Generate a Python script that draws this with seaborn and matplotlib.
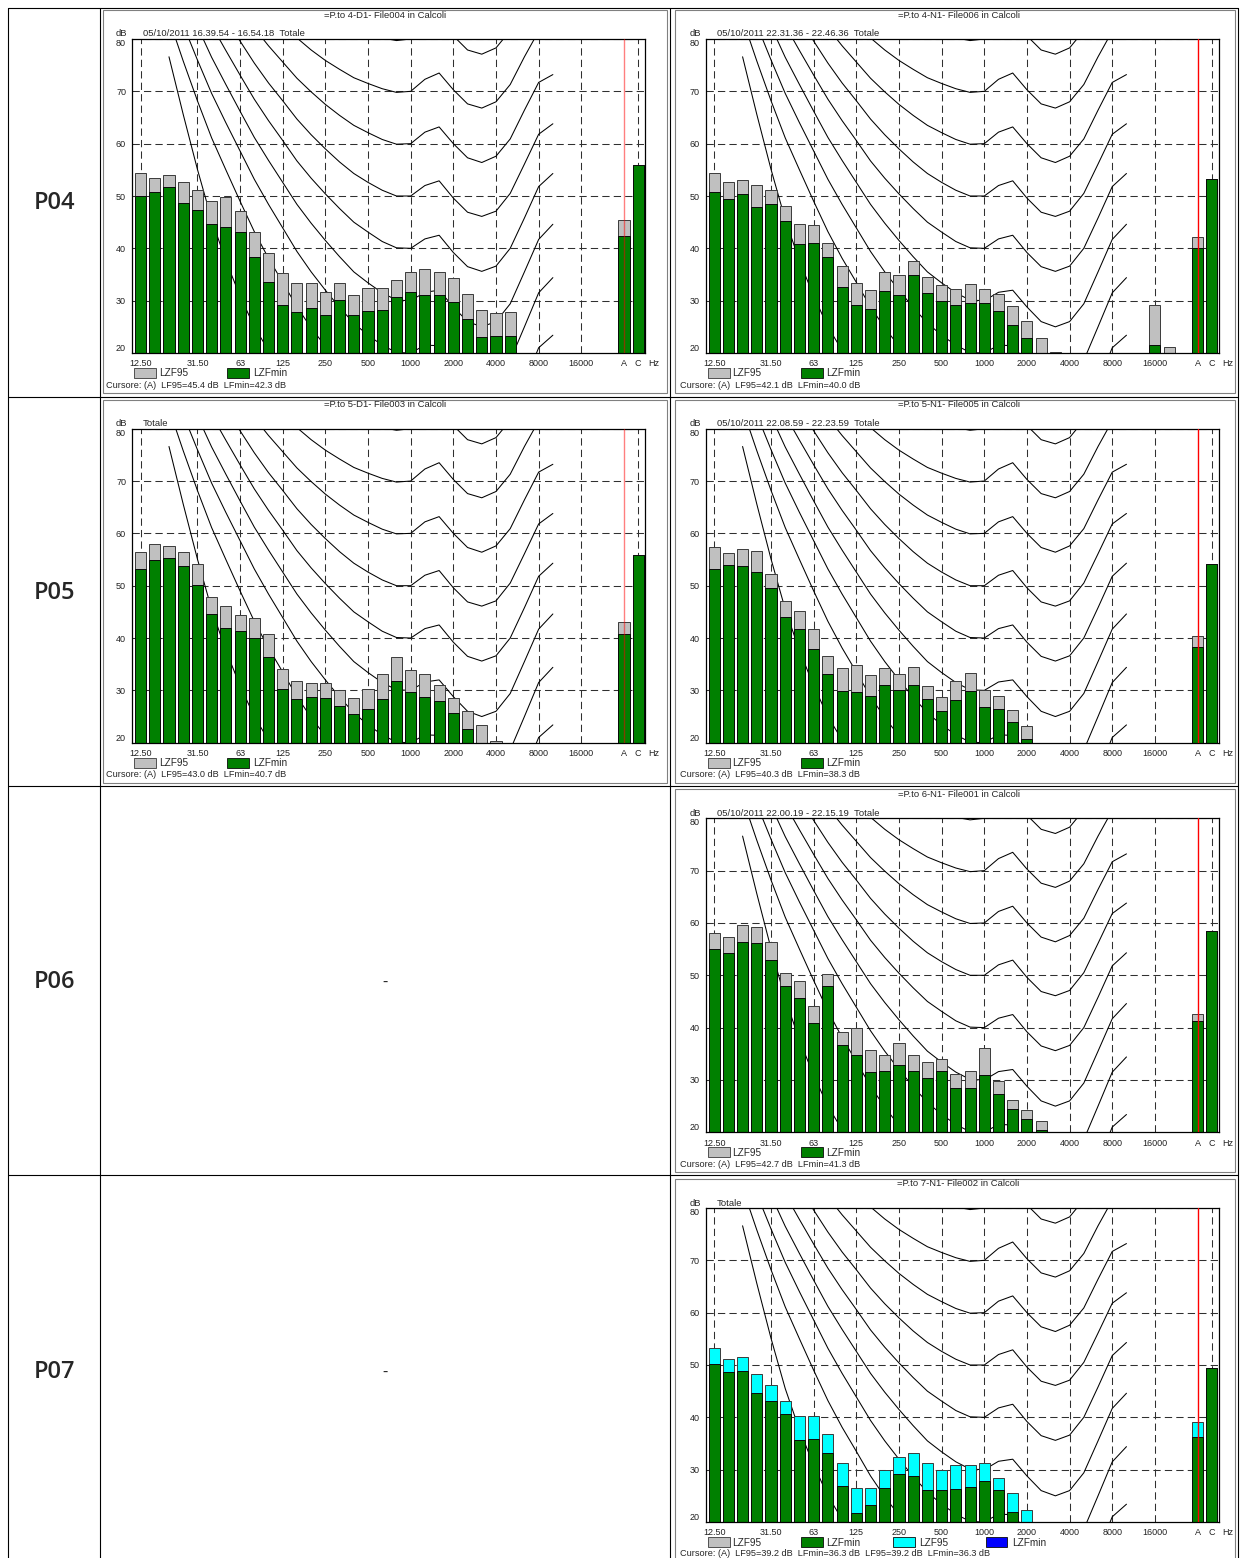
import numpy as np
import pandas as pd
import matplotlib
matplotlib.use("Agg")
import matplotlib.pyplot as plt
import seaborn as sns
from matplotlib.lines import Line2D
from matplotlib.patches import Rectangle

sns.set_style("white")
plt.rcParams['font.family'] = ['Liberation Sans', 'DejaVu Sans']

W, H = 1241, 1558
BANDS = ["12.5", "16", "20", "25", "31.5", "40", "50", "63", "80", "100", "125", "160", "200",
         "250", "315", "400", "500", "630", "800", "1000", "1250", "1600", "2000", "2500",
         "3150", "4000", "5000", "6300", "8000", "10000", "12500", "16000", "20000"]
CATS = BANDS + ["gap", "A", "C"]
TICK_POS = [0, 4, 7, 10, 13, 16, 19, 22, 25, 28, 31, 34, 35]
TICK_LAB = ["12.50", "31.50", "63", "125", "250", "500", "1000", "2000", "4000", "8000", "16000", "A", "C"]
GRID_X = [0, 4, 7, 10, 13, 16, 19, 22, 25, 28, 31, 35]

# equal-loudness contours, 20 Hz ... 10000 Hz
PHON_0 = [76.6, 65.6, 55.1, 45.5, 37.6, 30.9, 25.0, 20.5, 16.6, 13.1, 10.1, 7.5, 5.1, 3.1, 1.5, 0.3, -0.3, -0.0,
          1.0, -1.2, -4.1, -7.0, -9.0, -8.5, -4.5, 3.3, 9.8, 10.5]
PHON_10 = [83.8, 75.8, 68.2, 61.1, 55.0, 49.0, 43.2, 38.1, 33.5, 28.8, 24.8, 21.3, 18.1, 15.1, 13.0, 11.2, 10.0,
           10.0, 11.3, 10.4, 7.3, 4.5, 3.0, 3.8, 7.5, 14.3, 21.0, 23.4]
PHON_20 = [89.6, 82.7, 76.0, 69.6, 64.0, 58.6, 53.2, 48.4, 43.9, 39.4, 35.5, 32.0, 28.7, 25.7, 23.4, 21.5, 20.1,
           20.0, 21.5, 21.4, 18.2, 15.4, 14.3, 15.1, 18.6, 25.0, 31.5, 34.4]
PHON_30 = [94.8, 88.5, 82.4, 76.5, 71.3, 66.2, 61.2, 56.8, 52.6, 48.4, 44.8, 41.5, 38.4, 35.5, 33.4, 31.5, 30.1,
           30.0, 31.6, 32.0, 28.8, 26.0, 25.0, 26.0, 29.4, 35.5, 41.7, 44.6]
PHON_40 = [99.9, 93.9, 88.2, 82.6, 77.8, 73.1, 68.5, 64.4, 60.6, 56.7, 53.4, 50.4, 47.6, 45.0, 43.1, 41.3, 40.1,
           40.0, 41.8, 42.5, 39.2, 36.5, 35.6, 36.6, 40.0, 45.8, 51.8, 54.3]
PHON_50 = [104.7, 99.1, 93.7, 88.5, 84.0, 79.6, 75.4, 71.6, 68.2, 64.7, 61.7, 59.0, 56.5, 54.3, 52.6, 51.1, 50.0,
           50.0, 52.0, 52.9, 49.6, 46.9, 46.1, 47.1, 50.5, 56.1, 61.8, 63.8]
PHON_60 = [109.5, 104.2, 99.1, 94.2, 90.0, 85.9, 82.1, 78.7, 75.6, 72.5, 69.9, 67.5, 65.4, 63.5, 62.1, 60.8, 59.9,
           60.0, 62.2, 63.2, 60.0, 57.3, 56.4, 57.6, 60.9, 66.4, 71.7, 73.2]
PHON_70 = [114.3, 109.2, 104.4, 99.8, 95.9, 92.2, 88.6, 85.6, 82.9, 80.2, 77.9, 75.9, 74.2, 72.6, 71.5, 70.5, 69.8,
           70.0, 72.3, 73.5, 70.3, 67.6, 66.8, 68.0, 71.3, 76.6, 81.5, 82.5]
PHON_80 = [119.0, 114.2, 109.6, 105.3, 101.7, 98.4, 95.2, 92.5, 90.1, 87.8, 85.9, 84.3, 82.9, 81.7, 80.9, 80.2,
           79.7, 80.0, 82.5, 83.7, 80.6, 77.9, 77.1, 78.3, 81.6, 86.8, 91.4, 91.7]

CURVES = {0: PHON_0, 10: PHON_10, 20: PHON_20, 30: PHON_30, 40: PHON_40, 50: PHON_50, 60: PHON_60,
          70: PHON_70, 80: PHON_80}
CURVE_POS = list(range(2, 30))

nan = np.nan
P04L_95 = [54.3, 53.4, 54.1, 52.7, 51.1, 49.0, 49.9, 47.1, 43.1, 39.2, 35.3, 33.4, 33.4, 31.6, 33.4, 31.1, 32.4,
           32.5, 34.0, 35.4, 36.1, 35.5, 34.3, 31.2, 28.3, 27.6, 27.9] + [nan] * 6
P04L_MIN = [50.0, 50.8, 51.7, 48.7, 47.3, 44.6, 44.1, 43.1, 38.3, 33.6, 29.2, 27.8, 28.6, 27.3, 30.1, 27.3, 28.0,
            28.3, 30.7, 31.7, 31.1, 31.1, 29.7, 26.5, 23.0, 23.2, 23.2] + [nan] * 6
P04L_AC = ([45.4, 56.0], [42.3, 56.0])

P04R_95 = [54.3, 52.7, 53.1, 52.1, 51.1, 48.0, 44.7, 44.5, 41.1, 36.7, 33.3, 32.1, 35.4, 35.0, 37.5, 34.5, 32.9,
           32.3, 33.2, 32.3, 31.2, 28.9, 26.1, 22.8, 20.1, nan, nan, nan, nan, nan, nan, 29.1, 21.1]
P04R_MIN = [50.8, 49.5, 50.4, 47.9, 48.5, 45.2, 40.8, 41.0, 38.3, 32.6, 29.2, 28.4, 31.8, 31.1, 34.9, 31.5, 29.9,
            29.2, 29.6, 29.6, 28.0, 25.4, 22.9, nan, nan, nan, nan, nan, nan, nan, nan, 21.6, nan]
P04R_AC = ([42.1, 53.2], [40.0, 53.2])

P05L_95 = [56.4, 57.9, 57.6, 56.5, 54.1, 47.9, 46.2, 44.4, 43.8, 40.8, 34.1, 31.8, 31.5, 31.4, 30.1, 28.5, 30.3,
           33.1, 36.3, 33.8, 33.2, 31.0, 28.6, 26.0, 23.3, 20.3] + [nan] * 7
P05L_MIN = [53.2, 55.0, 55.2, 53.8, 50.1, 44.6, 42.0, 41.4, 40.1, 36.4, 30.3, 28.4, 28.8, 28.6, 27.1, 25.4, 26.5,
            28.3, 31.8, 29.7, 28.8, 28.0, 25.7, 22.7] + [nan] * 9
P05L_AC = ([43.0, 55.9], [40.7, 55.9])

P05R_95 = [57.3, 56.2, 57.1, 56.6, 52.2, 47.1, 45.2, 41.7, 36.6, 34.2, 34.8, 32.9, 34.3, 33.1, 34.5, 30.8, 28.7,
           31.7, 33.4, 30.1, 28.9, 26.2, 23.2] + [nan] * 10
P05R_MIN = [53.1, 54.0, 53.8, 52.7, 49.6, 44.1, 41.8, 37.9, 33.2, 29.9, 29.7, 29.0, 31.1, 30.1, 31.1, 28.4, 26.1,
            28.2, 29.9, 26.9, 26.5, 24.0, 20.8] + [nan] * 10
P05R_AC = ([40.3, 54.1], [38.3, 54.1])

P06R_95 = [58.1, 57.3, 59.7, 59.3, 56.3, 50.5, 49.0, 44.1, 50.2, 39.2, 39.9, 35.8, 34.7, 37.1, 34.7, 33.5, 34.0,
           31.1, 31.8, 36.1, 29.8, 26.1, 24.2, 22.1] + [nan] * 9
P06R_MIN = [55.0, 54.3, 56.3, 56.1, 52.9, 48.0, 45.7, 40.9, 48.0, 36.7, 34.8, 31.6, 31.8, 32.9, 31.8, 30.4, 31.8,
            28.5, 28.5, 31.0, 27.3, 24.4, 22.5, 20.4] + [nan] * 9
P06R_AC = ([42.7, 58.4], [41.3, 58.4])

P07R_95 = [53.2, 51.2, 51.5, 48.2, 46.2, 43.1, 40.2, 40.2, 36.9, 31.2, 26.5, 26.5, 29.9, 32.5, 33.1, 31.3, 30.0,
           30.8, 30.8, 31.3, 28.5, 25.5, 22.2] + [nan] * 10
P07R_MIN = [50.1, 48.6, 48.8, 44.6, 43.1, 40.6, 35.6, 35.8, 33.2, 26.9, 21.7, 23.2, 26.5, 29.1, 28.7, 26.2, 26.2,
            26.4, 26.6, 27.8, 26.1, 22.0] + [nan] * 11
P07R_AC = ([39.2, 49.4], [36.3, 49.4])

ROW_LABELS = ["P04", "P05", "P06", "P07"]

PANELS = [
    dict(r=0, c=0, title="=P.to 4-D1- File004 in Calcoli", head="05/10/2011 16.39.54 - 16.54.18  Totale",
         cur="Cursore: (A)  LF95=45.4 dB  LFmin=42.3 dB", v95=P04L_95, vmin=P04L_MIN, ac=P04L_AC, top="#c0c0c0", ra=0.5),
    dict(r=0, c=1, title="=P.to 4-N1- File006 in Calcoli", head="05/10/2011 22.31.36 - 22.46.36  Totale",
         cur="Cursore: (A)  LF95=42.1 dB  LFmin=40.0 dB", v95=P04R_95, vmin=P04R_MIN, ac=P04R_AC, top="#c0c0c0", ra=1),
    dict(r=1, c=0, title="=P.to 5-D1- File003 in Calcoli", head="Totale",
         cur="Cursore: (A)  LF95=43.0 dB  LFmin=40.7 dB", v95=P05L_95, vmin=P05L_MIN, ac=P05L_AC, top="#c0c0c0", ra=0.5),
    dict(r=1, c=1, title="=P.to 5-N1- File005 in Calcoli", head="05/10/2011 22.08.59 - 22.23.59  Totale",
         cur="Cursore: (A)  LF95=40.3 dB  LFmin=38.3 dB", v95=P05R_95, vmin=P05R_MIN, ac=P05R_AC, top="#c0c0c0", ra=1),
    dict(r=2, c=1, title="=P.to 6-N1- File001 in Calcoli", head="05/10/2011 22.00.19 - 22.15.19  Totale",
         cur="Cursore: (A)  LF95=42.7 dB  LFmin=41.3 dB", v95=P06R_95, vmin=P06R_MIN, ac=P06R_AC, top="#c0c0c0", ra=1),
    dict(r=3, c=1, title="=P.to 7-N1- File002 in Calcoli", head="Totale",
         cur="Cursore: (A)  LF95=39.2 dB  LFmin=36.3 dB  LF95=39.2 dB  LFmin=36.3 dB",
         v95=P07R_95, vmin=P07R_MIN, ac=P07R_AC, top="#00ffff", ra=1),
]

fig = plt.figure(figsize=(W / 100, H / 100), dpi=100)


def fx(x):
    return x / W


def fy(y):
    return 1 - y / H


def fline(x0, y0, x1, y1, color="black", lw=0.8):
    fig.add_artist(Line2D([fx(x0), fx(x1)], [fy(y0), fy(y1)], transform=fig.transFigure, color=color, lw=lw))


def frect(x0, y0, x1, y1, fc, ec="black", lw=0.6):
    fig.add_artist(Rectangle((fx(x0), fy(y1)), (x1 - x0) / W, (y1 - y0) / H, transform=fig.transFigure,
                             facecolor=fc, edgecolor=ec, lw=lw))


ROW_OFF = [0, 389.7, 779.3, 1169.0]
COL_OFF = [0, 573.6]
TXT = 6.8

# table
for y in [8, 397, 786, 1175]:
    fline(8, y, 1238, y)
for x in [8, 100, 670, 1238]:
    fline(x, 8, x, H)
for i, lab in enumerate(ROW_LABELS):
    fig.text(fx(55), fy(203 + ROW_OFF[i]), lab, fontsize=17, ha="center", va="center", weight="semibold",
             family=["Open Sans", "DejaVu Sans"])
for i in [2, 3]:
    fig.text(fx(385), fy(983 + ROW_OFF[i] - ROW_OFF[2]), "-", fontsize=12, ha="center", va="center",
             family=["Open Sans", "DejaVu Sans"])

curve_df = pd.DataFrame([(Ln, p, v) for Ln, vals in CURVES.items() for p, v in zip(CURVE_POS, vals)],
                        columns=["phon", "pos", "dB"])

for P in PANELS:
    r, c = P["r"], P["c"]
    dx, dy = COL_OFF[c], ROW_OFF[r]
    # panel box
    bx1 = 667 if c == 0 else 1235
    bx0 = 103 if c == 0 else 675
    frect(bx0, 10 + dy, bx1, 393 + dy, "none", ec="#808080", lw=0.8)
    left, right, top, bottom = 132.3 + dx, 645 + dx, 39 + dy, 353 + dy
    ax = fig.add_axes([fx(left), fy(bottom), (right - left) / W, (bottom - top) / H])
    sns.lineplot(data=curve_df, x="pos", y="dB", units="phon", estimator=None, color="black",
                 linewidth=0.75, legend=False, sort=False, ax=ax, zorder=1.5)
    v95 = list(P["v95"]) + [nan] + P["ac"][0]
    vmin = list(P["vmin"]) + [nan] + P["ac"][1]
    d95 = pd.DataFrame({"band": CATS, "v": v95}).dropna()
    dmin = pd.DataFrame({"band": CATS, "v": vmin}).dropna()
    sns.barplot(data=d95, x="band", y="v", order=CATS, color=P["top"], saturation=1, width=0.78,
                edgecolor="#3a3a3a", linewidth=0.7, errorbar=None, ax=ax, zorder=2)
    sns.barplot(data=dmin, x="band", y="v", order=CATS, color="#008000", saturation=1, width=0.78,
                edgecolor="#0a0a0a", linewidth=0.7, errorbar=None, ax=ax, zorder=2.1)
    for yv in [30, 40, 50, 60, 70, 80]:
        ax.axhline(yv, color="#303030", lw=0.75, ls=(0, (7, 4)), zorder=1)
    for xv in GRID_X:
        ax.axvline(xv, color="#303030", lw=0.75, ls=(0, (7, 4)), zorder=1)
    ax.axvline(34, color="red", lw=1.0, alpha=P["ra"], zorder=3)
    ax.set_xlim(-0.58, 35.48)
    ax.set_ylim(20, 80)
    ax.set_xticks(TICK_POS, TICK_LAB)
    ax.set_yticks([20, 30, 40, 50, 60, 70, 80])
    ax.set_xlabel("")
    ax.set_ylabel("")
    ax.tick_params(axis="x", length=0, pad=4.5, labelsize=6.5, colors="#222222")
    ax.tick_params(axis="y", length=3, width=0.7, pad=1.5, labelsize=6.5, colors="#222222", direction="out")
    ylabs = ax.get_yticklabels()
    ylabs[0].set_va("bottom")
    ylabs[-1].set_va("top")
    for s in ax.spines.values():
        s.set_visible(True)
        s.set_color("black")
        s.set_linewidth(0.9)
    ax.text(36.1, -0.02, "Hz", transform=ax.get_xaxis_transform(), fontsize=6.5, ha="center", va="top",
            color="#222222")
    # texts
    fig.text(fx(385 + dx), fy(15 + dy), P["title"], fontsize=TXT, ha="center", va="center")
    fig.text(fx(116 + dx), fy(34 + dy), "dB", fontsize=TXT, ha="left", va="center")
    fig.text(fx(143 + dx), fy(34 + dy), P["head"], fontsize=TXT, ha="left", va="center")
    fig.text(fx(106 + dx), fy(385 + dy), P["cur"], fontsize=6.6, ha="left", va="center")
    # legend
    frect(134 + dx, 368 + dy, 156 + dx, 378 + dy, "#c0c0c0", ec="#3a3a3a")
    fig.text(fx(159 + dx), fy(373.5 + dy), "LZF95", fontsize=7.2, ha="left", va="center")
    frect(227 + dx, 368 + dy, 249 + dx, 378 + dy, "#008000", ec="#0a0a0a")
    fig.text(fx(253 + dx), fy(373.5 + dy), "LZFmin", fontsize=7.2, ha="left", va="center")
    if P["top"] == "#00ffff":
        frect(319 + dx, 368 + dy, 341 + dx, 378 + dy, "#00ffff", ec="#0a0a0a")
        fig.text(fx(346 + dx), fy(373.5 + dy), "LZF95", fontsize=7.2, ha="left", va="center")
        frect(412 + dx, 368 + dy, 433 + dx, 378 + dy, "#0000ff", ec="#0a0a0a")
        fig.text(fx(439 + dx), fy(373.5 + dy), "LZFmin", fontsize=7.2, ha="left", va="center")

fig.savefig("out.png", dpi=100)
